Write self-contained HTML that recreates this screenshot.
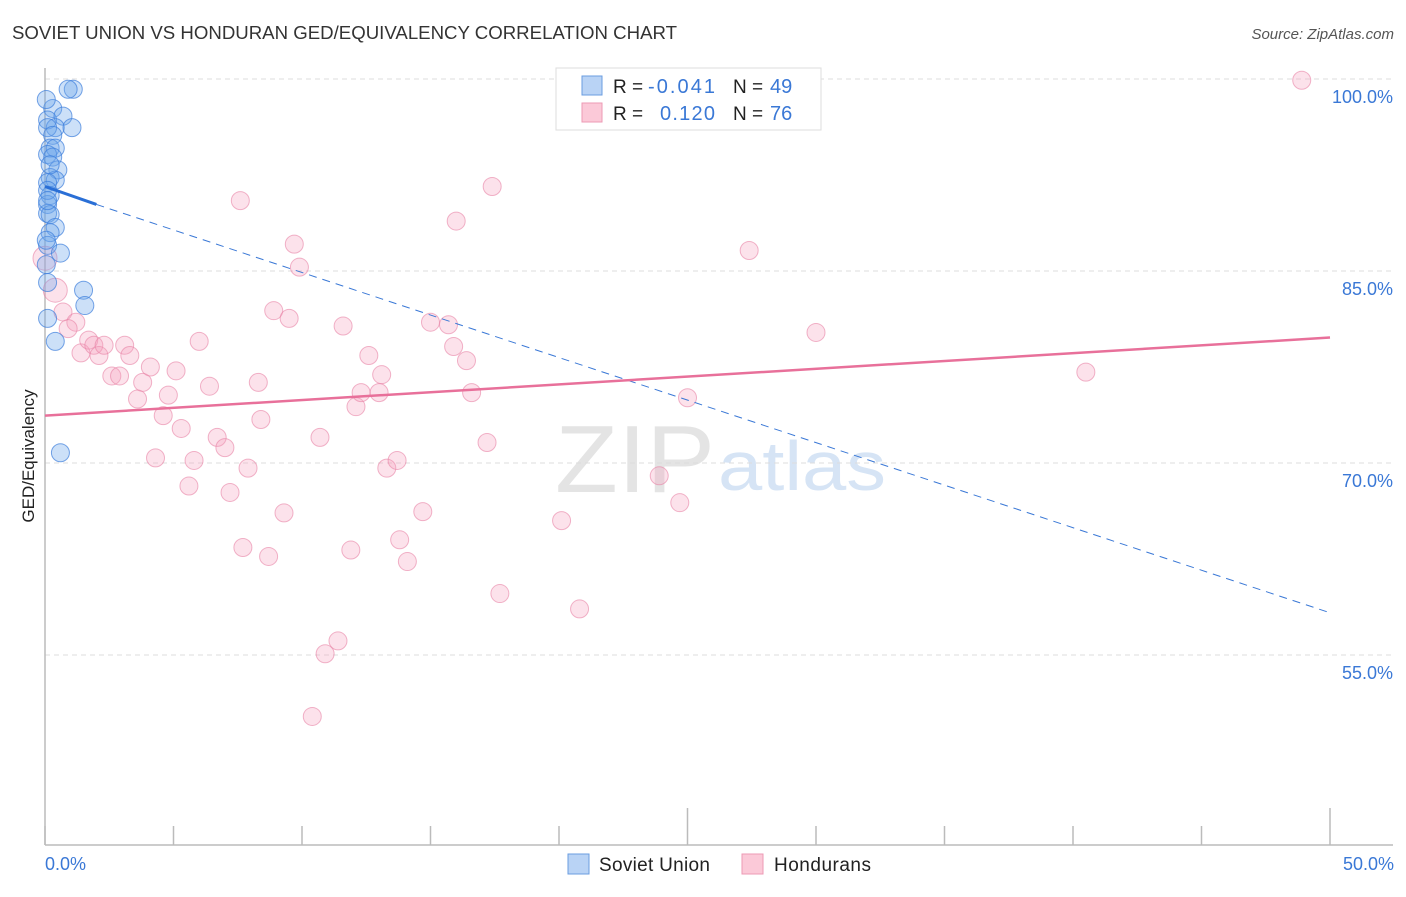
<!DOCTYPE html>
<html><head><meta charset="utf-8"><style>
body{margin:0;background:#fff;font-family:"Liberation Sans",sans-serif}
svg text{font-family:"Liberation Sans",sans-serif}
</style></head><body>
<svg id="c" width="1406" height="892" xmlns="http://www.w3.org/2000/svg">
<text x="12" y="39" font-size="18" fill="#333" textLength="665" lengthAdjust="spacingAndGlyphs">SOVIET UNION VS HONDURAN GED/EQUIVALENCY CORRELATION CHART</text>
<text x="1394" y="39" font-size="15" fill="#555" text-anchor="end" font-style="italic">Source: ZipAtlas.com</text>
<text x="555" y="492" font-size="96" fill="#e4e4e4" font-family="Liberation Serif" textLength="160" lengthAdjust="spacingAndGlyphs">ZIP</text>
<text x="718" y="490" font-size="70" fill="#d6e4f5" textLength="168" lengthAdjust="spacingAndGlyphs">atlas</text>
<g id="grid"></g>
<g id="axes"></g>
<g id="marks"></g>
<text transform="translate(34,456) rotate(-90)" font-size="17" fill="#222" text-anchor="middle">GED/Equivalency</text>
<text x="45" y="870" font-size="18" fill="#3a78d6">0.0%</text>
<text x="1394" y="870" font-size="18" fill="#3a78d6" text-anchor="end">50.0%</text>
<g>
<rect x="556" y="68" width="265" height="62" fill="#fff" stroke="#ddd"/>
<rect x="582" y="76" width="20" height="19" fill="#b9d3f5" stroke="#6a9de0"/>
<rect x="582" y="103" width="20" height="19" fill="#fbc9d8" stroke="#ec9ab4"/>
<text x="613" y="93" font-size="19" fill="#222">R =</text>
<text x="648" y="93" font-size="20" fill="#3a78d6" textLength="67">-0.041</text>
<text x="733" y="93" font-size="19" fill="#222">N =</text>
<text x="770" y="93" font-size="20" fill="#3a78d6">49</text>
<text x="613" y="120" font-size="19" fill="#222">R =</text>
<text x="660" y="120" font-size="20" fill="#3a78d6" textLength="55">0.120</text>
<text x="733" y="120" font-size="19" fill="#222">N =</text>
<text x="770" y="120" font-size="20" fill="#3a78d6">76</text>
</g>
<g>
<rect x="568" y="854" width="21" height="20" fill="#b9d3f5" stroke="#6a9de0"/>
<text x="599" y="871" font-size="19" fill="#222" textLength="111">Soviet Union</text>
<rect x="742" y="854" width="21" height="20" fill="#fbc9d8" stroke="#ec9ab4"/>
<text x="774" y="871" font-size="19" fill="#222" textLength="97">Hondurans</text>
</g>
</svg>
<script>
const yTicks=[100,85,70,55];
const yTickLabels=["100.0%","85.0%","70.0%","55.0%"];
const xTicks=[0,5,10,15,20,25,30,35,40,45,50];
const sovietX=[1.1,0.9,0.3,0.1,0.7,0.4,1.05,0.1,0.3,0.2,0.4,0.1,0.3,0.5,0.2,0.4,0.1,0.2,0.1,0.1,0.2,0.4,0.2,0.1,0.6,0.05,0.1,1.5,1.55,0.1,0.4,0.6,0.05,0.2,0.1,0.1,0.05];
const sovietY=[99.2,99.2,97.7,96.8,97.1,96.2,96.2,96.2,95.6,94.6,94.6,94.1,93.9,92.9,92.3,92.1,91.9,90.9,90.2,89.5,89.4,88.4,88.0,87.0,86.4,85.5,84.1,83.5,82.3,81.3,79.5,70.8,98.4,93.3,91.3,90.5,87.4];
const hondX=[0.0,0.4,0.7,1.2,0.9,1.4,1.7,1.9,2.1,2.3,3.1,3.3,2.6,2.9,3.8,4.1,5.1,3.6,4.8,4.6,6.0,5.3,4.3,5.8,5.6,6.4,6.7,7.0,7.2,7.9,7.6,8.3,8.4,7.7,8.7,8.9,9.5,9.7,9.9,9.3,10.7,11.6,12.6,12.1,12.3,13.1,13.0,13.3,13.7,11.9,10.9,11.4,10.4,13.8,14.1,14.7,15.0,15.7,15.9,16.0,16.4,16.6,17.2,17.4,17.7,20.1,20.8,23.9,24.7,25.0,27.4,30.0,40.5,48.9,28.1];
const hondY=[86.0,83.5,81.8,81.0,80.5,78.6,79.6,79.2,78.4,79.2,79.2,78.4,76.8,76.8,76.3,77.5,77.2,75.0,75.3,73.7,79.5,72.7,70.4,70.2,68.2,76.0,72.0,71.2,67.7,69.6,90.5,76.3,73.4,63.4,62.7,81.9,81.3,87.1,85.3,66.1,72.0,80.7,78.4,74.4,75.5,76.9,75.5,69.6,70.2,63.2,55.1,56.1,50.2,64.0,62.3,66.2,81.0,80.8,79.1,88.9,78.0,75.5,71.6,91.6,59.8,65.5,58.6,69.0,66.9,75.1,86.6,80.2,77.1,99.9,99.9];
const sovietTrend=[[0,91.6],[2,90.2],[50,58.3]];
const hondTrend=[[0,73.7],[50,79.8]];
const X=v=>45+v*25.7, Y=v=>79+(100-v)*12.8;
const NS="http://www.w3.org/2000/svg";
function mk(t,a,p){const e=document.createElementNS(NS,t);for(const k in a)e.setAttribute(k,a[k]);p.appendChild(e);return e;}
const grid=document.getElementById('grid'),axes=document.getElementById('axes'),marks=document.getElementById('marks');
yTicks.forEach((t,i)=>{
 const l=mk('line',{x1:45,x2:1393,y1:Y(t),y2:Y(t),stroke:'#ddd','stroke-dasharray':'5,4'},grid);
 
 
 const tx=mk('text',{x:1393,y:Y(t)+24,'font-size':18,fill:'#3a78d6','text-anchor':'end'},grid);
 tx.textContent=yTickLabels[i];
 
 
});
const ya=mk('line',{x1:45,x2:45,y1:68,y2:845,stroke:'#bbb','stroke-width':1.5},axes);


const xa=mk('line',{x1:45,x2:1393,y1:845,y2:845,stroke:'#bbb','stroke-width':1.5},axes);


xTicks.forEach(t=>{
 const major=(t===25||t===50);
 const l=mk('line',{x1:X(t),x2:X(t),y1:major?808:826,y2:845,stroke:'#bbb','stroke-width':1.5},axes);
 
 
});
hondX.forEach((v,i)=>{
 const c=mk('circle',{cx:X(v),cy:Y(hondY[i]),r:i<2?12:9,fill:'rgba(244,160,188,0.3)',stroke:'rgba(232,130,165,0.6)','stroke-width':1},marks);
 
 
});
sovietX.forEach((v,i)=>{
 const c=mk('circle',{cx:X(v),cy:Y(sovietY[i]),r:9,fill:'rgba(110,165,235,0.35)',stroke:'rgba(60,125,220,0.7)','stroke-width':1},marks);
 
 
});
const sd=mk('line',{x1:X(sovietTrend[1][0]),y1:Y(sovietTrend[1][1]),x2:X(sovietTrend[2][0]),y2:Y(sovietTrend[2][1]),stroke:'#3a78d6','stroke-width':1,'stroke-dasharray':'8,6'},marks);


const ss=mk('line',{x1:X(sovietTrend[0][0]),y1:Y(sovietTrend[0][1]),x2:X(sovietTrend[1][0]),y2:Y(sovietTrend[1][1]),stroke:'#2a6fd6','stroke-width':3},marks);


const hl=mk('line',{x1:X(hondTrend[0][0]),y1:Y(hondTrend[0][1]),x2:X(hondTrend[1][0]),y2:Y(hondTrend[1][1]),stroke:'#e8709a','stroke-width':2.5},marks);


</script>
</body></html>
